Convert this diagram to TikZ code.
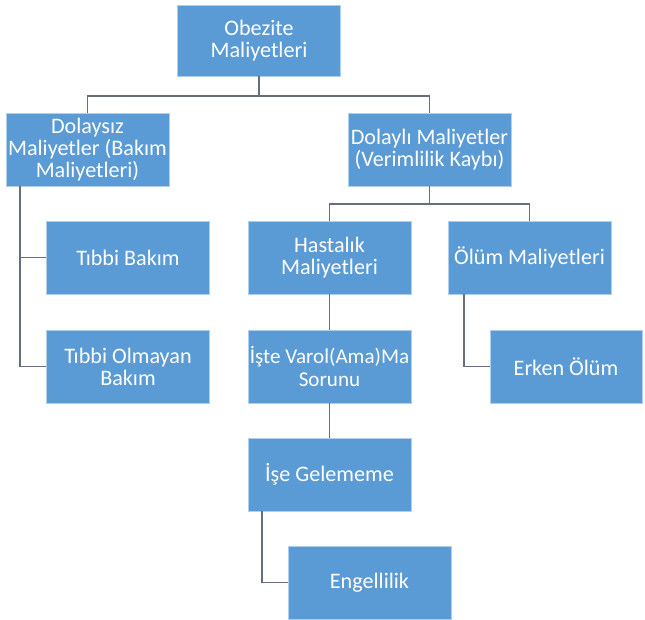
\documentclass[tikz,border=0pt]{standalone}
\usepackage{fontspec}
\setmainfont{Carlito}
\definecolor{boxblue}{RGB}{91,155,213}
\definecolor{boxedge}{RGB}{175,208,236}
\definecolor{linkgray}{RGB}{100,110,125}
\begin{document}
\begin{tikzpicture}[x=0.02cm,y=-0.02cm,
		costbox/.style={rectangle,fill=boxblue,draw=boxedge,line width=0.4pt,text=white,align=center,
			minimum width=3.26cm,minimum height=1.46cm,inner sep=0pt,font=\fontsize{12.6}{12.6}\selectfont},
		link/.style={draw=linkgray,line width=1pt}
		]
		\fill[white] (0,0) rectangle (645,619);
		\useasboundingbox (0,0) rectangle (645,619);
		
		\node[costbox, minimum height=1.42cm](B0) at (259,40.5){Obezite\\Maliyetleri};
		\node[costbox](B1) at (87.5,149.5){Dolaysız\\Maliyetler (Bakım\\Maliyetleri)};
		\node[costbox](B2) at (429.5,149.5){Dolaylı Maliyetler\\(Verimlilik Kaybı)};
		
		\node[costbox](B3) at (128,257.5){Tıbbi Bakım};
		\node[costbox](B4) at (128,366.5){Tıbbi Olmayan\\Bakım};
		
		\node[costbox](B5) at (329.5,257.5){Hastalık\\Maliyetleri};
		\node[costbox](B6) at (529.5,257.5){Ölüm Maliyetleri};
		\node[costbox, font=\fontsize{12}{12.6}\selectfont](B7) at (329.5,366.5){İşte Varol(Ama)Ma\\Sorunu};
		\node[costbox, minimum width=3.04cm](B8) at (566,366.5){Erken Ölüm};
		\node[costbox](B9) at (329.5,474.5){İşe Gelememe};
		\node[costbox](B10) at (369.5,582.5){Engellilik};
		
		\draw[link] (B0.south) -- ++(0,20) -| (B1.north);
		\draw[link] (B0.south) -- ++(0,20) -| (B2.north);
		\draw[link] (B2.south) -- ++(0,18) -| (B5.north);
		\draw[link] (B2.south) -- ++(0,18) -| (B6.north);
		\draw[link] ([xshift=0.28cm]B1.south west) |- (B3.west);
		\draw[link] ([xshift=0.28cm]B1.south west) |- (B4.west);
		\draw[link] (B5.south) -- (B7.north);
		\draw[link] (B7.south) -- (B9.north);
		\draw[link] ([xshift=0.32cm]B6.south west) |- (B8.west);
		\draw[link] ([xshift=0.28cm]B9.south west) |- (B10.west);
	\end{tikzpicture}
\end{document}
